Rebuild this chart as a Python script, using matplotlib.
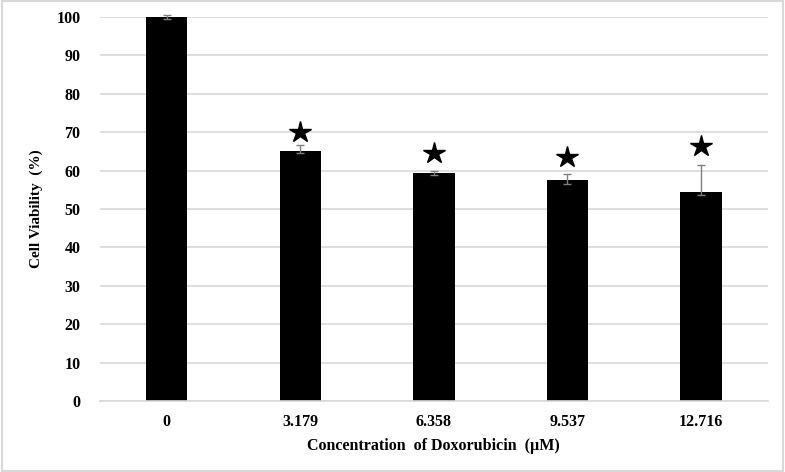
import matplotlib.pyplot as plt
from matplotlib.patches import Rectangle

# values
concentrations = ['0', '3.179', '6.358', '9.537', '12.716']
viability = [100.0, 65.2, 59.5, 57.5, 54.4]
err_low = [0.5, 0.7, 0.6, 1.1, 0.8]
err_high = [0.5, 1.4, 0.4, 1.5, 7.0]
star_y = [None, 70.1, 64.7, 63.6, 66.5]
y_ticks = list(range(0, 101, 10))

plt.rcParams['font.family'] = ['Liberation Serif', 'DejaVu Serif']

fig = plt.figure(figsize=(7.85, 4.72), dpi=100)
ax = fig.add_axes([0.1274, 0.1504, 0.8506, 0.8136])

x = list(range(len(concentrations)))
ax.bar(x, viability, width=0.31, color='black', zorder=2)
ax.errorbar(x, viability, yerr=[err_low, err_high], fmt='none',
            ecolor='#7f7f7f', elinewidth=1, capsize=3, capthick=1,
            zorder=3, clip_on=False)

# significance stars
for xi, sy in zip(x, star_y):
    if sy is not None:
        ax.plot(xi, sy, marker='*', markersize=16, color='black',
                linestyle='none', zorder=4)

ax.set_xlim(-0.5, len(concentrations) - 0.5)
ax.set_ylim(0, 100)
ax.set_yticks(y_ticks)
ax.set_xticks(x)
ax.set_xticklabels(concentrations)
ax.yaxis.grid(True, color='#d9d9d9', linewidth=1.2, zorder=0)
ax.set_axisbelow(True)

for side in ['top', 'right', 'left']:
    ax.spines[side].set_visible(False)
ax.spines['bottom'].set_color('#d9d9d9')
ax.spines['bottom'].set_linewidth(1.2)

ax.tick_params(axis='both', length=0, labelsize=11.5)
ax.tick_params(axis='x', pad=9)
ax.tick_params(axis='y', pad=14)
for lbl in ax.get_xticklabels() + ax.get_yticklabels():
    lbl.set_fontweight('bold')

ax.set_xlabel('Concentration  of Doxorubicin  (\u00b5M)', fontsize=11.5,
              fontweight='bold', labelpad=6)
ax.set_ylabel('Cell Viability  (%)', fontsize=11, fontweight='bold',
              labelpad=10)

fig.patches.append(Rectangle((0.002, 0.003), 0.996, 0.994,
                             transform=fig.transFigure, fill=False,
                             edgecolor='#d9d9d9', linewidth=1.5))

fig.savefig('out.png', dpi=100)
